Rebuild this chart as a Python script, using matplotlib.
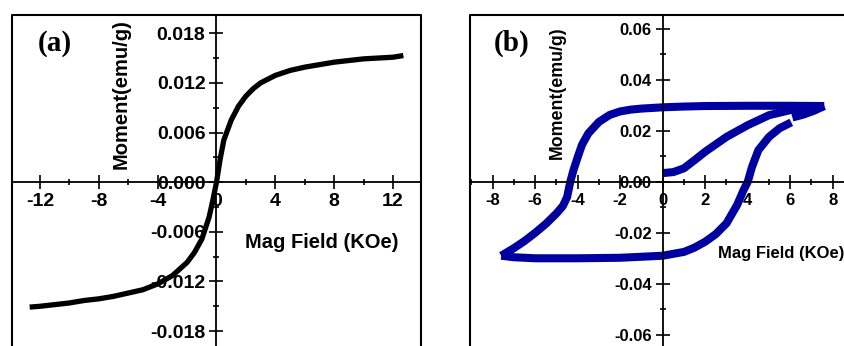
import matplotlib.pyplot as plt
from matplotlib.ticker import MultipleLocator

# ---------------------------
# Data
# ---------------------------
# (a) M-H curve, black
field_a = [-12.7, -12, -11, -10, -9, -8, -7, -6, -5, -4, -3, -2, -1.5, -1, -0.5, -0.25, 0,
           0.25, 0.5, 1, 1.5, 2, 2.5, 3, 4, 5, 6, 7, 8, 9, 10, 11, 12, 12.7]
moment_a = [-0.0151, -0.0150, -0.0148, -0.0146, -0.0143, -0.0141, -0.0138, -0.0134, -0.0130,
            -0.0123, -0.0113, -0.0097, -0.0085, -0.0069, -0.0042, -0.0022, 0.0,
            0.0028, 0.0051, 0.0075, 0.0092, 0.0104, 0.0113, 0.0120, 0.0129, 0.0135, 0.0139,
            0.0142, 0.0145, 0.0147, 0.0149, 0.0150, 0.0151, 0.0153]

# (b) hysteresis loop, blue
# virgin curve
field_init = [0, 0.5, 1, 1.5, 2, 3, 4, 5, 6, 7, 7.6]
moment_init = [0.0034, 0.0038, 0.0053, 0.0085, 0.0118, 0.0176, 0.0222, 0.0261, 0.0281, 0.0292, 0.0297]
# descending branch
field_down = [7.6, 6, 4, 2, 1, 0, -1, -1.5, -2, -2.5, -3, -3.5, -3.8, -4.0, -4.2, -4.35,
              -4.5, -4.7, -5, -5.5, -6, -6.5, -7, -7.6]
moment_down = [0.0297, 0.0298, 0.0298, 0.0297, 0.0295, 0.0292, 0.0287, 0.0283, 0.0276,
               0.0262, 0.0235, 0.0190, 0.0145, 0.0097, 0.0046, 0.0, -0.0060, -0.0095,
               -0.0124, -0.0165, -0.0200, -0.0232, -0.0260, -0.0290]
# ascending branch
field_up = [-7.6, -7, -6, -4, -2, 0, 1, 1.5, 2, 2.5, 3, 3.5, 3.8, 4.0, 4.2, 4.5, 5, 5.5, 6.05]
moment_up = [-0.0290, -0.0296, -0.0300, -0.0300, -0.0298, -0.0290, -0.0275, -0.0258,
             -0.0235, -0.0205, -0.0163, -0.0091, -0.0033, 0.0, 0.0058, 0.0124, 0.0176,
             0.0210, 0.0233]
# short piece after the gap
field_tail = [6.1, 6.6, 7.1, 7.6]
moment_tail = [0.0252, 0.0263, 0.0278, 0.0297]

W, H = 844, 346
fig = plt.figure(figsize=(W / 100, H / 100), dpi=100)
plt.rcParams['font.family'] = ['Liberation Sans', 'DejaVu Sans']


def setup(ax, xlim, ylim, fs, xmaj, xmin, ymaj, ymin, yfmt, hide_right=False):
    ax.set_xlim(*xlim)
    ax.set_ylim(*ylim)
    ax.patch.set_alpha(0)
    for s in ['top', 'right']:
        ax.spines[s].set_visible(False)
    ax.spines['left'].set_position('zero')
    ax.spines['bottom'].set_position('zero')
    for s in ['left', 'bottom']:
        ax.spines[s].set_linewidth(1.3)
    ax.xaxis.set_major_locator(MultipleLocator(xmaj))
    ax.xaxis.set_minor_locator(MultipleLocator(xmin))
    ax.yaxis.set_major_locator(MultipleLocator(ymaj))
    ax.yaxis.set_minor_locator(MultipleLocator(ymin))
    ax.tick_params(which='major', direction='inout', length=10, width=1.2,
                   labelsize=fs, pad=3)
    ax.tick_params(which='minor', direction='inout', length=5, width=1.2)
    ax.yaxis.set_major_formatter(plt.FuncFormatter(lambda v, p: yfmt.format(v)))
    ax.xaxis.set_major_formatter(plt.FuncFormatter(lambda v, p: '{:g}'.format(v)))
    for lab in ax.get_xticklabels() + ax.get_yticklabels():
        lab.set_fontweight('bold')
    # outer frame (top, left, right)
    ax.plot([0, 0, 1] if hide_right else [0, 0, 1, 1],
            [0, 1, 1] if hide_right else [0, 1, 1, 0],
            transform=ax.transAxes, color='black', lw=1.5, clip_on=False)


# ---------------------------
# Panel (a)
# ---------------------------
ax1 = fig.add_axes([12 / W, 0, 409 / W, 331 / H])
setup(ax1, (-13.9, 13.9), (-0.0198, 0.0202), 14, 4, 2, 0.006, 0.003, '{:.3f}')
ax1.plot(field_a, moment_a, color='black', lw=3.8, solid_capstyle='butt',
         solid_joinstyle='round')
ax1.text(7.14, -0.00725, 'Mag Field (KOe)', fontsize=14.5, fontweight='bold',
         ha='center', va='center')
ax1.text(-6.49, 0.01063, 'Moment(emu/g)', fontsize=14.5, fontweight='bold',
         rotation=90, ha='center', va='center')
ax1.text(-11.0, 0.0168, '(a)', fontsize=21, fontweight='bold',
         family='Liberation Serif', ha='center', va='center')

# ---------------------------
# Panel (b)
# ---------------------------
ax2 = fig.add_axes([470 / W, 0, 374 / W, 331 / H])
setup(ax2, (-9.07, 8.53), (-0.0644, 0.0654), 12, 2, 1, 0.02, 0.01, '{:.2f}',
      hide_right=True)
blue = '#0000a0'
for xs, ys in [(field_init, moment_init), (field_down, moment_down),
               (field_up, moment_up), (field_tail, moment_tail)]:
    ax2.plot(xs, ys, color=blue, lw=5.8, solid_capstyle='butt', solid_joinstyle='round')
ax2.text(5.57, -0.028, 'Mag Field (KOe)', fontsize=12, fontweight='bold',
         ha='center', va='center')
ax2.text(-4.97, 0.0348, 'Moment(emu/g)', fontsize=12.8, fontweight='bold',
         rotation=90, ha='center', va='center')
ax2.text(-7.09, 0.0544, '(b)', fontsize=21, fontweight='bold',
         family='Liberation Serif', ha='center', va='center')

fig.savefig('out.png', dpi=100)
